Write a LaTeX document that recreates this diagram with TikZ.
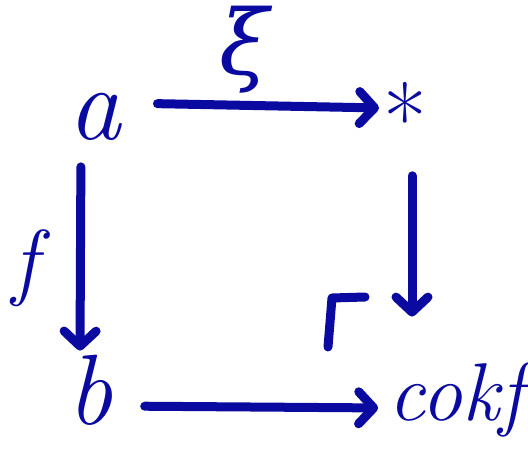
\documentclass[tikz,border=0pt]{standalone}
\usepackage{fontspec}
\newfontfamily\greekfont{DejaVu Serif}
\usetikzlibrary{arrows.meta}
\definecolor{ink}{RGB}{10,10,160}

\begin{document}
\begin{tikzpicture}[x=1pt, y=1pt,
    obj/.style={inner sep=2pt, text=ink, font=\fontsize{105}{105}\selectfont\itshape},
    arr/.style={draw=ink, line width=9pt, line cap=round,
                -{Straight Barb[length=15pt, width=32pt, line cap=round, round]}}]
    \useasboundingbox (0,0) rectangle (528,453);
    % objects
    \node[obj] (a) at (95,336) {a};
    \node[obj, font=\fontsize{95}{95}\selectfont] (star) at (405,335) {*};
    \node[obj, font=\fontsize{100}{100}\selectfont\itshape] (b) at (90,63) {b};
    \node[obj, font=\fontsize{82}{82}\selectfont\itshape] (coker) at (456,53) {cokf};
    % labels
    \node[obj, font=\fontsize{90}{90}\selectfont\greekfont\itshape] (lxi) at (244,403) {ξ};
    \node[obj, font=\fontsize{85}{85}\selectfont\itshape] (lf) at (25,185) {f};
    % arrows
    \draw[arr, shorten <=34pt, shorten >=2pt] ([yshift=14pt]a.east) -- ([yshift=10pt]star.west);
    \draw[arr, shorten <=24pt, shorten >=2pt] ([xshift=-14pt]a.south) -- ([xshift=-10pt]b.north);
    \draw[arr, shorten <=20pt, shorten >=44pt] ([xshift=7pt]star.south) -- ([xshift=7pt]star.south |- coker.north);
    \draw[arr, shorten <=30pt, shorten >=8pt] ([yshift=-16pt]b.east) -- ([yshift=-8pt]coker.west);
    % corner
    \draw[ink, line width=9pt, line cap=round, line join=round] (328,106) -- (332,155) -- (365,156);
\end{tikzpicture}
\end{document}
